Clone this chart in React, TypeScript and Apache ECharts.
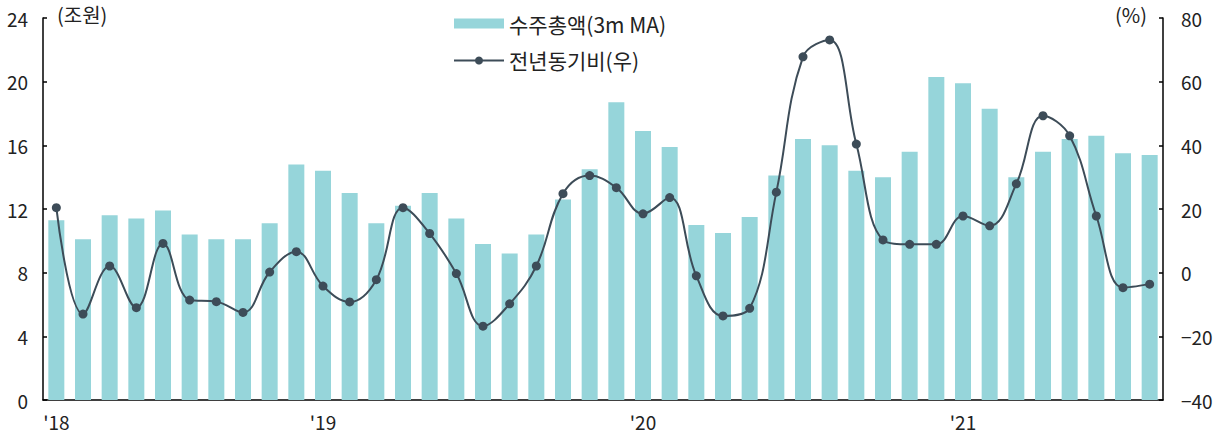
import React, { useEffect, useRef } from "react";
import * as echarts from "echarts";

// Monthly periods, Mar 2018 – Aug 2021
const months: string[] = [
  "18.03", "18.04", "18.05", "18.06", "18.07", "18.08", "18.09", "18.10", "18.11", "18.12",
  "19.01", "19.02", "19.03", "19.04", "19.05", "19.06", "19.07", "19.08", "19.09", "19.10", "19.11", "19.12",
  "20.01", "20.02", "20.03", "20.04", "20.05", "20.06", "20.07", "20.08", "20.09", "20.10", "20.11", "20.12",
  "21.01", "21.02", "21.03", "21.04", "21.05", "21.06", "21.07", "21.08",
];

// Total orders, 3-month moving average (trillion won)
const orders3mMA: number[] = [
  11.3, 10.1, 11.6, 11.4, 11.9, 10.4, 10.1, 10.1, 11.1, 14.8,
  14.4, 13.0, 11.1, 12.2, 13.0, 11.4, 9.8, 9.2, 10.4, 12.6, 14.5, 18.7,
  16.9, 15.9, 11.0, 10.5, 11.5, 14.1, 16.4, 16.0, 14.4, 14.0, 15.6, 20.3,
  19.9, 18.3, 14.0, 15.6, 16.4, 16.6, 15.5, 15.4,
];

// Year-over-year change (%), right axis
const yoyChange: number[] = [
  20.4, -13.0, 2.1, -11.0, 9.2, -8.6, -9.1, -12.5, 0.2, 6.6,
  -4.2, -9.2, -2.2, 20.4, 12.3, -0.3, -16.8, -9.8, 2.1, 24.8, 30.5, 26.7,
  18.5, 23.6, -1.0, -13.6, -11.2, 25.3, 67.8, 73.1, 40.4, 10.3, 8.9, 8.9,
  17.8, 14.7, 27.9, 49.3, 43.0, 17.8, -4.7, -3.6,
];

const leftTicks = { min: 0, max: 24, interval: 4 };
const rightTicks = { min: -40, max: 80, interval: 20 };

const FONT = "Noto Sans CJK KR";
const BAR_COLOR = "#96d5da";
const LINE_COLOR = "#3d4c58";
const TEXT_COLOR = "#222222";

export default function App() {
  const ref = useRef<HTMLDivElement>(null);

  useEffect(() => {
    if (!ref.current) return;
    const chart = echarts.init(ref.current, undefined, { renderer: "svg" });

    chart.setOption({
      animation: false,
      backgroundColor: "#ffffff",
      grid: { left: 43, right: 61, top: 18, bottom: 36, containLabel: false },
      legend: {
        orient: "vertical",
        left: 448,
        top: 8,
        itemWidth: 50,
        itemHeight: 10,
        itemGap: 16,
        textStyle: { fontFamily: FONT, fontSize: 21, color: TEXT_COLOR },
        data: [
          { name: "수주총액(3m MA)", icon: "rect" },
          { name: "전년동기비(우)" },
        ],
      },
      graphic: [
        {
          type: "text",
          left: 57,
          top: 4,
          style: { text: "(조원)", fontFamily: FONT, fontSize: 20, fill: TEXT_COLOR },
        },
        {
          type: "text",
          left: 1115,
          top: 4,
          style: { text: "(%)", fontFamily: FONT, fontSize: 20, fill: TEXT_COLOR },
        },
      ],
      xAxis: {
        type: "category",
        data: months,
        boundaryGap: true,
        axisLine: { lineStyle: { color: "#000", width: 1.5 } },
        axisTick: { inside: true, length: 4, interval: 0, lineStyle: { color: "#000", width: 1.5 } },
        axisLabel: {
          interval: (index: number, value: string) => index === 0 || value.endsWith(".01"),
          formatter: (value: string) => "'" + value.slice(0, 2),
          fontFamily: FONT,
          fontSize: 19,
          color: TEXT_COLOR,
          margin: 12,
        },
        splitLine: { show: false },
      },
      yAxis: [
        {
          type: "value",
          min: leftTicks.min,
          max: leftTicks.max,
          interval: leftTicks.interval,
          axisLine: { show: true, lineStyle: { color: "#000", width: 1.5 } },
          axisTick: { show: true, inside: true, length: 4, lineStyle: { color: "#000", width: 1.5 } },
          axisLabel: { fontFamily: FONT, fontSize: 19, color: TEXT_COLOR, margin: 15 },
          splitLine: { show: false },
        },
        {
          type: "value",
          min: rightTicks.min,
          max: rightTicks.max,
          interval: rightTicks.interval,
          position: "right",
          axisLine: { show: true, lineStyle: { color: "#000", width: 1.5 } },
          axisTick: { show: true, inside: true, length: 4, lineStyle: { color: "#000", width: 1.5 } },
          axisLabel: {
            fontFamily: FONT,
            fontSize: 19,
            color: TEXT_COLOR,
            margin: 18,
            formatter: (v: number) => (v < 0 ? "\u2212" + Math.abs(v) : String(v)),
          },
          splitLine: { show: false },
        },
      ],
      series: [
        {
          name: "수주총액(3m MA)",
          type: "bar",
          yAxisIndex: 0,
          data: orders3mMA,
          barWidth: 16,
          itemStyle: { color: BAR_COLOR },
        },
        {
          name: "전년동기비(우)",
          type: "line",
          yAxisIndex: 1,
          data: yoyChange,
          smooth: 0.4,
          symbol: "circle",
          symbolSize: 9,
          lineStyle: { color: LINE_COLOR, width: 2 },
          itemStyle: { color: LINE_COLOR },
        },
      ],
    });

    return () => chart.dispose();
  }, []);

  return (
    <div
      ref={ref}
      style={{ position: "fixed", left: 0, top: 0, width: 1224, height: 436 }}
    />
  );
}
